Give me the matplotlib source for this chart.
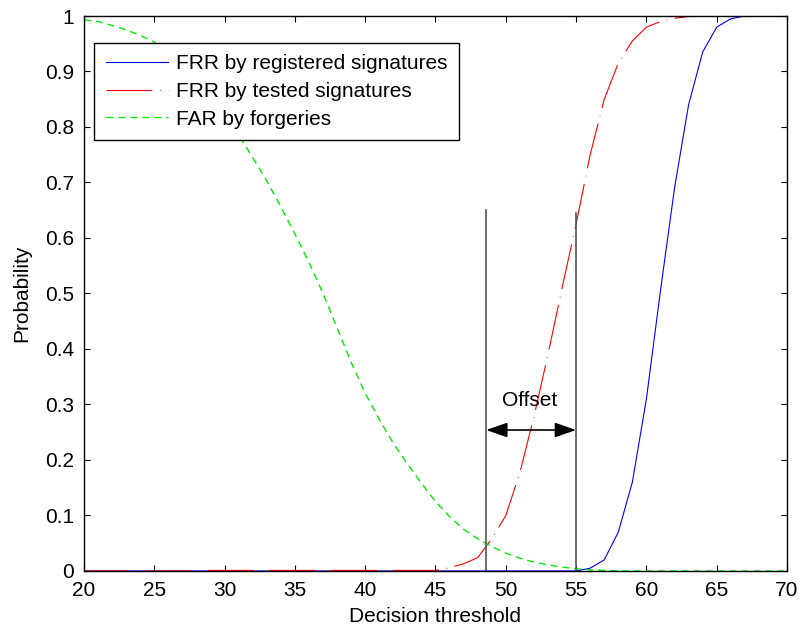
import matplotlib
matplotlib.use("Agg")
import matplotlib.pyplot as plt
import numpy as np

plt.rcParams["font.family"] = ["Liberation Sans", "DejaVu Sans"]
plt.rcParams["lines.scale_dashes"] = False

# decision thresholds and error rates
threshold = np.arange(20, 71)

frr_registered = [0.0] * 35 + [
    0.0, 0.005, 0.02, 0.07, 0.16, 0.31, 0.505, 0.69, 0.84, 0.935,
    0.98, 0.995, 1.0, 1.0, 1.0, 1.0,
]

frr_tested = [0.0] * 9 + [0.001] * 17 + [
    0.006, 0.013, 0.024, 0.058, 0.10, 0.177, 0.278, 0.39, 0.51, 0.625,
    0.75, 0.85, 0.915, 0.955, 0.98, 0.99, 0.996, 0.999,
    1.0, 1.0, 1.0, 1.0, 1.0, 1.0, 1.0,
]

far_forgeries = [
    0.993, 0.99, 0.983, 0.975, 0.965, 0.953, 0.935, 0.912, 0.885, 0.855,
    0.82, 0.785, 0.745, 0.703, 0.656, 0.607, 0.556, 0.5, 0.438, 0.376,
    0.32, 0.273, 0.23, 0.193, 0.158, 0.125, 0.098, 0.075, 0.058, 0.044,
    0.032, 0.023, 0.016, 0.011, 0.007, 0.004, 0.002, 0.001,
] + [0.0] * 13

offset_left = 48.6
offset_right = 55.0
offset_top = 0.65
arrow_y = 0.254

FS = 15

fig = plt.figure(figsize=(7.99, 6.30), dpi=100)
ax = fig.add_axes([0.1051, 0.0937, 0.8799, 0.8809])

ax.plot(threshold, frr_registered, color="blue", lw=0.8,
        label="FRR by registered signatures")
red, = ax.plot(threshold, frr_tested, color="red", lw=0.8,
               label="FRR by tested signatures")
red.set_dashes((33, 5.5, 0.5, 5.5))
green, = ax.plot(threshold, far_forgeries, color="#00ee00", lw=1.0,
                 label="FAR by forgeries")
green.set_dashes((5, 3.6))

# offset markers
ax.plot([offset_left, offset_left], [0, offset_top], color="#555555", lw=1.2)
ax.plot([offset_right, offset_right], [0, offset_top - 0.005], color="#555555", lw=1.2)
ax.annotate("", xy=(offset_left, arrow_y), xytext=(offset_right, arrow_y),
            arrowprops=dict(arrowstyle="<|-|>,head_length=1.3,head_width=0.45",
                            color="black", lw=1.2, shrinkA=0, shrinkB=0))
ax.text((offset_left + offset_right) / 2 - 0.1, 0.308, "Offset",
        ha="center", va="center", fontsize=FS)

ax.set_xlim(20, 70)
ax.set_ylim(0, 1)
ax.set_xticks(np.arange(20, 71, 5))
ax.set_yticks(np.arange(0, 1.01, 0.1))
ax.set_yticklabels(["0", "0.1", "0.2", "0.3", "0.4", "0.5", "0.6", "0.7",
                    "0.8", "0.9", "1"])
ax.tick_params(direction="in", length=4, width=0.8, top=True, right=True,
               labelsize=FS, pad=7)
for s in ax.spines.values():
    s.set_linewidth(1.0)
    s.set_color("black")

ax.set_xlabel("Decision threshold", fontsize=FS, labelpad=5)
ax.set_ylabel("Probability", fontsize=FS, labelpad=10)

leg = ax.legend(loc="upper left", bbox_to_anchor=(0.0147, 0.952),
                borderaxespad=0, fontsize=FS, handlelength=3.0,
                handletextpad=0.35, labelspacing=0.42, borderpad=0.55,
                fancybox=False, framealpha=1, edgecolor="black")
leg.get_frame().set_linewidth(1.0)

fig.savefig("out.png", dpi=100)
